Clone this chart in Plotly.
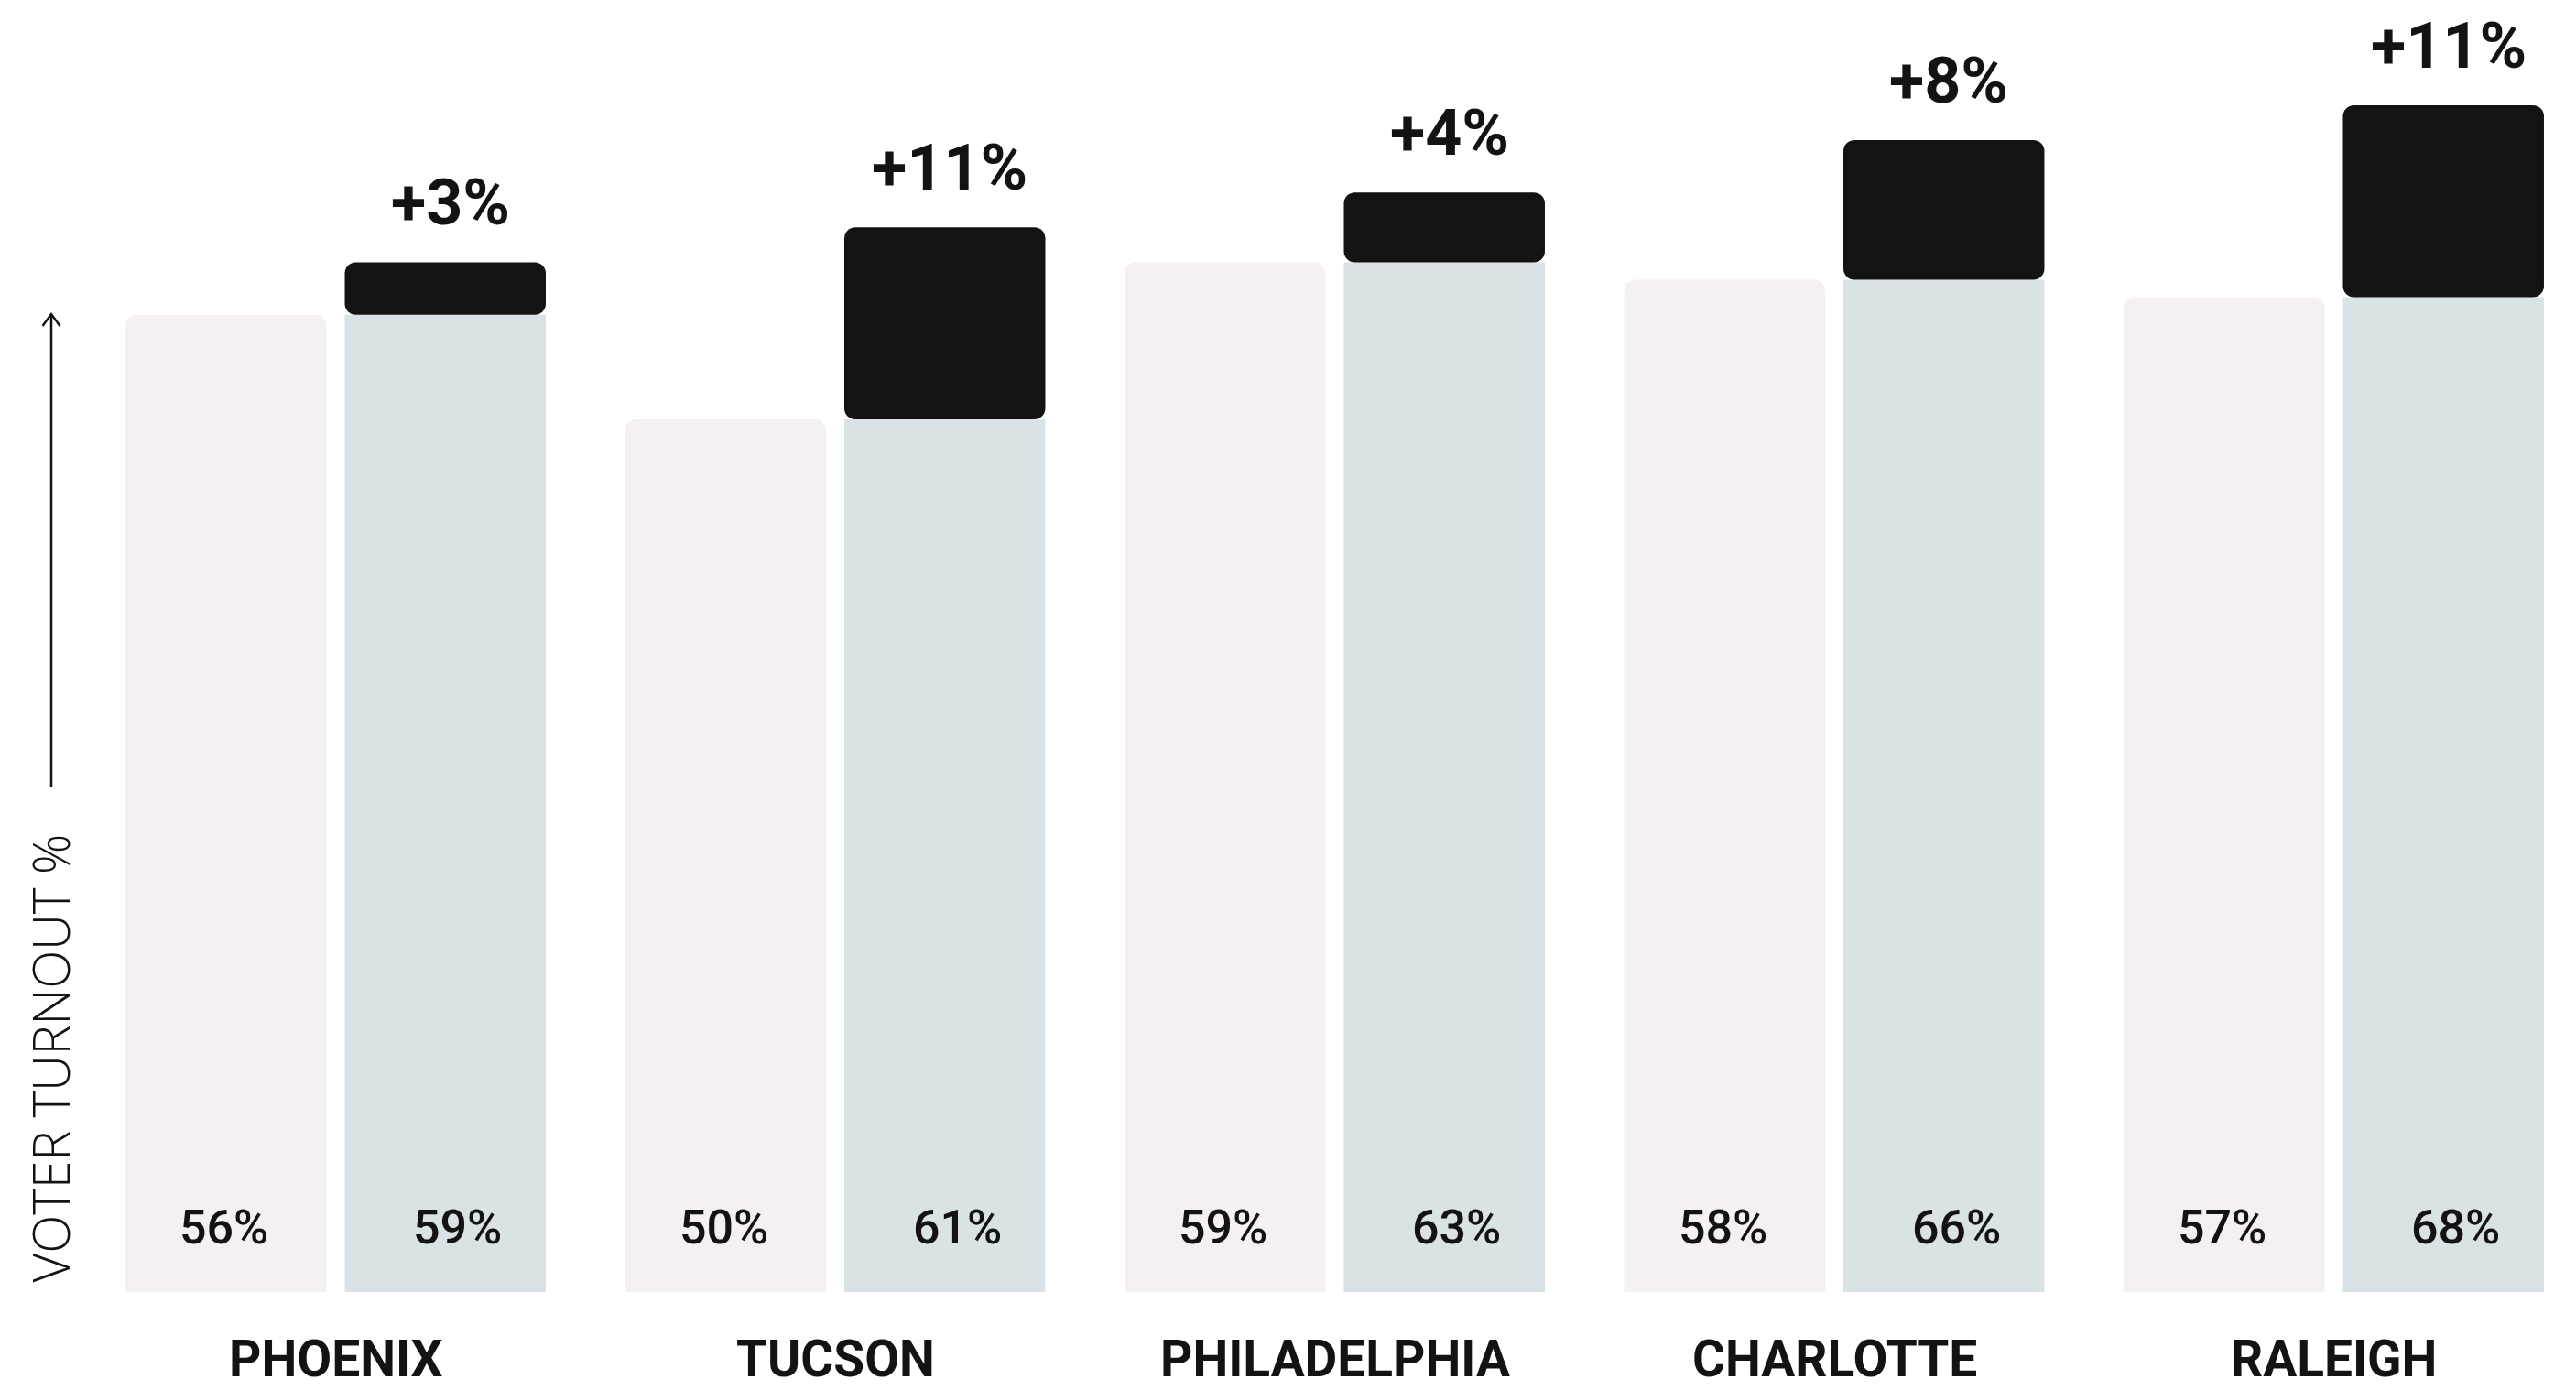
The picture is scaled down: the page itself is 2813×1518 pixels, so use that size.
import plotly.graph_objects as go

# Turnout by city: earlier election vs. most recent one
cities = ["PHOENIX", "TUCSON", "PHILADELPHIA", "CHARLOTTE", "RALEIGH"]
earlier_turnout = [56, 50, 59, 58, 57]
recent_turnout = [59, 61, 63, 66, 68]

increase = [r - e for r, e in zip(recent_turnout, earlier_turnout)]

W, H = 2813, 1518
MARGIN_B = 107
PLOT_H = H - MARGIN_B

C_EARLY = "#f5f1f0"
C_BASE = "#d9e2e5"
C_GAIN = "#131313"
INK = "#131313"
FONT = "Roboto"
TITLE_FONT = "Open Sans"

fig = go.Figure()

# left bar: earlier turnout
fig.add_trace(go.Bar(
    x=cities, y=earlier_turnout, offsetgroup="a",
    marker=dict(color=C_EARLY, cornerradius=12, line=dict(width=0)),
    hoverinfo="skip",
))
# right bar, lower part: the earlier level carried over
fig.add_trace(go.Bar(
    x=cities, y=earlier_turnout, offsetgroup="b",
    marker=dict(color=C_BASE, cornerradius=0, line=dict(width=0)),
    hoverinfo="skip",
))
# right bar, upper part: the gain on top
fig.add_trace(go.Bar(
    x=cities, y=increase, base=earlier_turnout, offsetgroup="b",
    marker=dict(color=C_GAIN, cornerradius=12, line=dict(width=0)),
    hoverinfo="skip",
))

annotations = []
for i, city in enumerate(cities):
    # value labels near the bottom of each bar
    annotations.append(dict(
        x=city, y=0, xref="x", yref="y", text=f"{earlier_turnout[i]}%",
        showarrow=False, xshift=-122, yshift=71, yanchor="middle",
        font=dict(family=FONT, size=52, color=INK, weight=500),
    ))
    annotations.append(dict(
        x=city, y=0, xref="x", yref="y", text=f"{recent_turnout[i]}%",
        showarrow=False, xshift=133, yshift=71, yanchor="middle",
        font=dict(family=FONT, size=52, color=INK, weight=500),
    ))
    # gain label above the stacked bar
    annotations.append(dict(
        x=city, y=recent_turnout[i], xref="x", yref="y", text=f"+{increase[i]}%",
        showarrow=False, xshift=125, yshift=22, yanchor="bottom",
        font=dict(family=FONT, size=70, color=INK, weight=700),
    ))
    # city name under the pair
    annotations.append(dict(
        x=city, y=0, xref="x", yref="y", text=city,
        showarrow=False, yshift=-73, yanchor="middle",
        font=dict(family=FONT, size=55, color=INK, weight=700),
    ))

# axis title, rotated
annotations.append(dict(
    x=53.5 / W, y=(PLOT_H - 1156) / PLOT_H, xref="paper", yref="paper",
    text="VOTER TURNOUT %", textangle=-90, showarrow=False,
    xanchor="center", yanchor="middle",
    font=dict(family=TITLE_FONT, size=55, color=INK, weight=300),
))

def py(p):
    return (PLOT_H - p) / PLOT_H

ax_x = 56 / W
shapes = [
    dict(type="line", xref="paper", yref="paper",
         x0=ax_x, x1=ax_x, y0=py(859), y1=py(343),
         line=dict(color=INK, width=2.5)),
    dict(type="path", xref="paper", yref="paper",
         path=f"M {46.5 / W} {py(356)} L {ax_x} {py(343)} L {65.5 / W} {py(356)}",
         line=dict(color=INK, width=2.5)),
]

px_per_cat = 545.5
x0_px = 366.5
fig.update_layout(
    width=W, height=H,
    margin=dict(l=0, r=0, t=0, b=MARGIN_B, pad=0),
    paper_bgcolor="white", plot_bgcolor="white",
    barmode="group", bargap=0.122, bargroupgap=0.0835,
    showlegend=False,
    xaxis=dict(type="category", range=[-x0_px / px_per_cat, (W - x0_px) / px_per_cat],
               showticklabels=False, showgrid=False, zeroline=False,
               showline=False, ticks=""),
    yaxis=dict(range=[0, PLOT_H / 19.06], showticklabels=False, showgrid=False,
               zeroline=False, showline=False, ticks=""),
    annotations=annotations,
    shapes=shapes,
)

fig.write_html("out.html")
